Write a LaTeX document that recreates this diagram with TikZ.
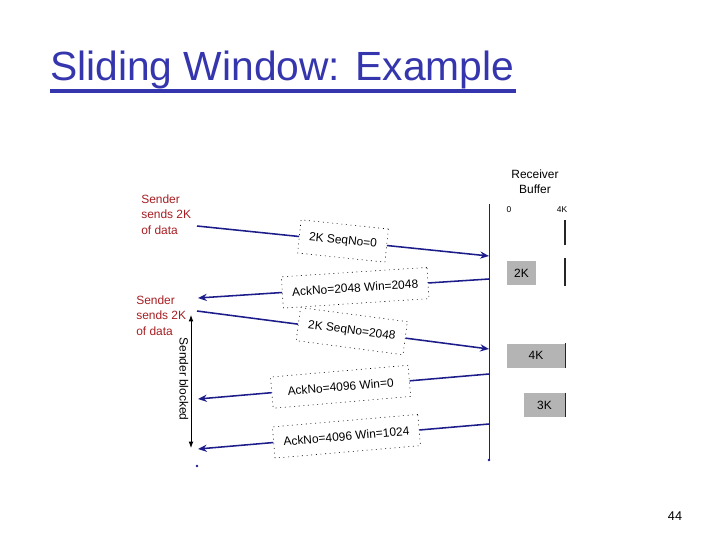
\documentclass[tikz,border=0pt]{standalone}
\usepackage{fontspec}
\setmainfont{Liberation Sans}
\usepackage{xcolor}
\usetikzlibrary{arrows.meta, calc}
\definecolor{slideblue}{HTML}{3535AE}
\definecolor{msgnavy}{HTML}{1C1C8A}
\definecolor{notered}{HTML}{A61E22}
\definecolor{bufgray}{HTML}{B4B4B4}

\begin{document}
\begin{tikzpicture}[
  x=0.025cm, y=-0.025cm,
  small/.style={font=\fontsize{8.5}{10.7}\selectfont},
  seg/.style={small, draw, dash pattern=on 0.7pt off 2.6pt, fill=white,
              inner xsep=7pt, inner ysep=8pt},
  msg/.style={draw=msgnavy, line width=1.1pt},
  arr/.style={msg, -{Stealth[length=2.2mm, width=1.8mm]}},
  note/.style={small, text=notered, align=left, inner sep=0pt, anchor=north west},
  buf/.style={small, fill=bufgray, inner sep=0pt, minimum height=0.6cm},
  bufedge/.style={draw=black!85, line width=0.8pt}
]
\useasboundingbox (0,0) rectangle (720,540);

% title
\node[anchor=base west, inner sep=0pt, text=slideblue,
      font=\fontsize{29}{34}\selectfont] (title) at (50,80) {Sliding Window: Example};
\draw[slideblue, line width=2.2pt] ($(title.base west)+(0,11)$) -- ($(title.base east)+(2,11)$);

% receiver time line
\coordinate (rtop) at (489,204);
\coordinate (rbot) at (489,460);
\coordinate (sbot) at (197,466);
\draw[msg, line width=0.7pt] (rtop) -- (rbot);
\fill[msgnavy] (rbot) circle (1pt);
\fill[msgnavy] (sbot) circle (1pt);

% sender notes
\node[note] (send1) at (141,195) {Sender\\sends 2K\\of data};
\node[note] (send2) at (136,296) {Sender\\sends 2K\\of data};

% segments
\coordinate (s1) at (197,226);
\coordinate (r1) at (489,256);
\node[seg, rotate=-6] (seq1) at ($(s1)!0.5!(r1)$) {2K SeqNo=0};
\draw[msg] (s1) -- (seq1);
\draw[arr] (seq1) -- (r1);

\coordinate (r2) at (489,279);
\coordinate (s2) at (198,298);
\node[seg, rotate=3.7] (ack1) at ($(r2)!0.46!(s2)$) {AckNo=2048 Win=2048};
\draw[msg] (r2) -- (ack1);
\draw[arr] (ack1) -- (s2);

\coordinate (s3) at (197,311);
\coordinate (r3) at (489,349);
\node[seg, rotate=-7.5] (seq2) at ($(s3)!0.53!(r3)$) {2K SeqNo=2048};
\draw[msg] (s3) -- (seq2);
\draw[arr] (seq2) -- (r3);

\coordinate (r4) at (489,374);
\coordinate (s4) at (198,399);
\node[seg, rotate=4.9, minimum width=3.45cm] (ack2) at ($(r4)!0.51!(s4)$) {AckNo=4096 Win=0};
\draw[msg] (r4) -- (ack2);
\draw[arr] (ack2) -- (s4);

\coordinate (r5) at (489,424);
\coordinate (s5) at (198,449);
\node[seg, rotate=4.9] (ack3) at ($(r5)!0.49!(s5)$) {AckNo=4096 Win=1024};
\draw[msg] (r5) -- (ack3);
\draw[arr] (ack3) -- (s5);

% sender blocked
\coordinate (btop) at (191,315);
\coordinate (bbot) at (191,448);
\draw[line width=0.6pt, {Latex[length=1.6mm]}-{Latex[length=1.6mm]}] (btop) -- (bbot);
\node[small, rotate=-90, inner sep=0pt] (blocked) at (184,379) {Sender blocked};

% receiver buffer
\node[small, align=center, inner sep=0pt] (rbuf) at (535,182) {Receiver\\Buffer};
\node[font=\fontsize{6}{7}\selectfont, inner sep=0pt] (zero) at (509,210) {0};
\node[font=\fontsize{6}{7}\selectfont, inner sep=0pt] (full) at (562,210) {4K};
\coordinate (e1t) at (565,220);
\coordinate (e1b) at (565,245);
\draw[bufedge] (e1t) -- (e1b);
\node[buf, minimum width=0.725cm] (b2k) at (521.5,273) {2K};
\coordinate (e2t) at (565,258);
\coordinate (e2b) at (565,286);
\draw[bufedge] (e2t) -- (e2b);
\node[buf, minimum width=1.45cm] (b4k) at (536,355.5) {4K};
\draw[bufedge] (b4k.north east) -- (b4k.south east);
\node[buf, minimum width=1.025cm] (b3k) at (544.5,405) {3K};
\draw[bufedge] (b3k.north east) -- (b3k.south east);

% page number
\node[font=\fontsize{9}{10}\selectfont] (page) at (675,516) {44};
\end{tikzpicture}
\end{document}
